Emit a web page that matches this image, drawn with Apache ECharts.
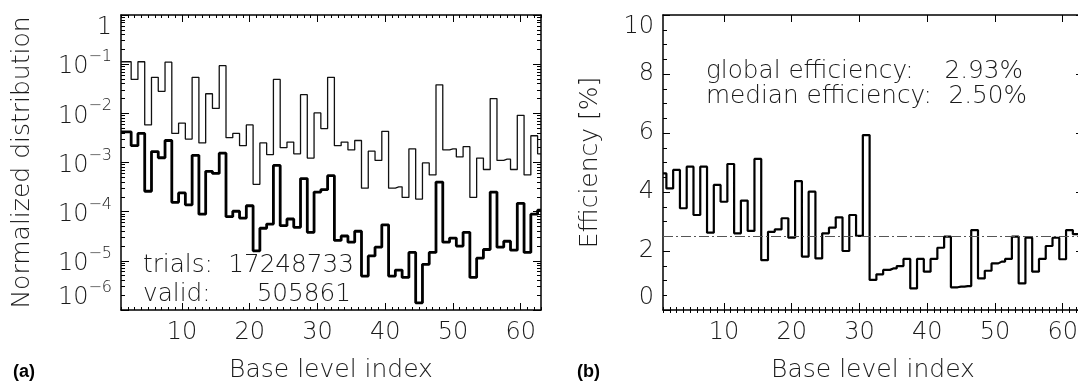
<!DOCTYPE html>
<html><head><meta charset="utf-8">
<script src="https://cdn.jsdelivr.net/npm/echarts@6/dist/echarts.min.js"></script>
<style>html,body{margin:0;padding:0;background:#fff}#c{width:1078px;height:384px}</style>
</head><body><div id="c"></div>
<script>
// ---- data ----
const binIndex = [1,2,3,4,5,6,7,8,9,10,11,12,13,14,15,16,17,18,19,20,21,22,23,24,25,26,27,28,29,30,31,32,33,34,35,36,37,38,39,40,41,42,43,44,45,46,47,48,49,50,51,52,53,54,55,56,57,58,59,60,61,62,63];
const trialsDist = [0.112,0.112,0.049,0.112,0.0058,0.054,0.028,0.11,0.0039,0.0063,
  0.0030,0.054,0.0025,0.025,0.0126,0.093,0.0032,0.0039,0.0022,0.0058,
  0.00036,0.0025,0.00145,0.049,0.0020,0.0026,0.0015,0.024,0.00123,0.0102,
  0.0049,0.054,0.0022,0.0026,0.0018,0.0028,0.0003,0.0017,0.0011,0.0043,
  0.0003,0.00032,0.000195,0.0019,0.00018,0.00098,0.00056,0.038,0.0018,0.0019,
  0.0013,0.0021,0.000195,0.00123,0.00072,0.020,0.0011,0.00117,0.00072,0.0091,
  0.00056,0.0035,0.0015];
const validDist = [0.0042,0.0042,0.0022,0.0039,0.00026,0.00167,0.00125,0.0028,0.000155,0.00024,
  0.000138,0.0014,0.000089,0.00066,0.0006,0.00155,0.000079,0.000102,0.000074,0.000132,
  0.000016,0.000046,0.000056,0.00087,0.000052,0.000071,0.000048,0.00047,0.000038,0.00025,
  0.00028,0.00054,0.000026,0.000032,0.000024,0.000040,0.0000049,0.0000126,0.000019,0.000054,
  0.0000049,0.0000065,0.0000046,0.0000148,0.0000014,0.0000085,0.0000148,0.0004,0.000024,0.000029,
  0.000020,0.000038,0.0000046,0.0000113,0.000017,0.00025,0.000019,0.000025,0.0000165,0.000148,
  0.0000148,0.000089,0.000107];
const efficiency = [4.63,4.12,4.75,3.45,4.86,3.22,4.86,2.62,4.24,3.67,
  4.95,2.60,3.71,2.68,5.12,1.69,2.65,2.73,3.11,2.45,
  4.37,1.81,4.01,1.75,2.60,2.79,3.14,2.00,3.22,2.51,
  5.93,1.02,1.21,1.36,1.41,1.49,1.73,0.73,1.73,1.30,
  1.73,2.11,2.49,0.77,0.79,0.81,2.71,1.07,1.33,1.58,
  1.64,1.73,2.49,0.90,2.45,1.30,1.73,2.17,2.45,1.72,
  2.71,2.57,2.60];
const medianEfficiency = 2.5;
const xTickValues = [10,20,30,40,50,60];
const logTickValues = [1e-6,1e-5,1e-4,1e-3,1e-2,1e-1,1];
const effTickValues = [0,2,4,6,8,10];
const logMinorValues = [];
for (let e = -6; e <= -1; e++) for (let m = 2; m <= 9; m++) logMinorValues.push(parseFloat((m * Math.pow(10, e)).toPrecision(3)));

// ---- styling ----
const FONT = "'DejaVu Sans', sans-serif";
const TXT = '#1a1a1a';
const tickLine = {color: '#000', width: 1};
const axLine = {show: true, onZero: false, lineStyle: {color: '#000', width: 1.5}};
const nameStyle = {fontFamily: FONT, fontSize: 25, color: TXT, fontWeight: 300};
const tickFont = {fontFamily: FONT, fontSize: 24, color: TXT, fontWeight: 300};

function xAxesFor(g) {
  const base = {gridIndex: g, type: 'value', min: 1, max: 63, splitLine: {show: false}};
  return [
    Object.assign({}, base, {position: 'bottom', axisLine: axLine,
      axisTick: {show: true, inside: true, length: 7, customValues: xTickValues, lineStyle: tickLine},
      axisLabel: Object.assign({show: true, customValues: xTickValues, margin: 11}, tickFont),
      name: 'Base level index', nameLocation: 'middle', nameGap: 48, nameTextStyle: nameStyle}),
    Object.assign({}, base, {position: 'bottom', axisLine: {show: false},
      axisTick: {show: true, inside: true, length: 3, customValues: binIndex, lineStyle: tickLine}, axisLabel: {show: false}}),
    Object.assign({}, base, {position: 'top', axisLine: axLine,
      axisTick: {show: true, inside: true, length: 7, customValues: xTickValues, lineStyle: tickLine}, axisLabel: {show: false}}),
    Object.assign({}, base, {position: 'top', axisLine: {show: false},
      axisTick: {show: true, inside: true, length: 3, customValues: binIndex, lineStyle: tickLine}, axisLabel: {show: false}})
  ];
}

function logLabel(v) {
  const e = Math.round(Math.log10(v));
  if (e === 0) return '{one|1}';
  return '{b|10}{s|\u2212' + (-e) + '}';
}
const logRich = {
  b: Object.assign({verticalAlign: 'bottom', lineHeight: 30}, tickFont),
  s: {fontFamily: FONT, fontSize: 16, color: TXT, fontWeight: 300, verticalAlign: 'top'},
  one: Object.assign({padding: [26, 0, 0, 0]}, tickFont)
};

const logBase = {gridIndex: 0, type: 'log', logBase: 10, min: 1e-6, max: 1, splitLine: {show: false}};
const effBase = {gridIndex: 1, type: 'value', min: 0, max: 10, interval: 2, splitLine: {show: false}};

const yAxes = [
  Object.assign({}, logBase, {position: 'left', axisLine: axLine,
    axisTick: {show: true, inside: true, length: 8, customValues: logTickValues, lineStyle: tickLine},
    axisLabel: {show: true, customValues: logTickValues, formatter: logLabel, rich: logRich, margin: 9,
      verticalAlignMinLabel: 'bottom'},
    name: 'Normalized distribution', nameLocation: 'middle', nameRotate: 90, nameGap: 86, nameTextStyle: nameStyle}),
  Object.assign({}, logBase, {position: 'left', axisLine: {show: false},
    axisTick: {show: true, inside: true, length: 4, customValues: logMinorValues, lineStyle: tickLine}, axisLabel: {show: false}}),
  Object.assign({}, logBase, {position: 'right', axisLine: axLine,
    axisTick: {show: true, inside: true, length: 8, customValues: logTickValues, lineStyle: tickLine}, axisLabel: {show: false}}),
  Object.assign({}, logBase, {position: 'right', axisLine: {show: false},
    axisTick: {show: true, inside: true, length: 4, customValues: logMinorValues, lineStyle: tickLine}, axisLabel: {show: false}}),
  Object.assign({}, effBase, {position: 'left', axisLine: axLine,
    axisTick: {show: true, inside: true, length: 7, lineStyle: tickLine},
    minorTick: {show: true, splitNumber: 4, length: 4, lineStyle: tickLine},
    axisLabel: Object.assign({show: true, margin: 9, verticalAlignMinLabel: 'bottom', verticalAlignMaxLabel: 'top'}, tickFont),
    name: 'Efficiency [%]', nameLocation: 'middle', nameRotate: 90, nameGap: 60, nameTextStyle: nameStyle}),
  Object.assign({}, effBase, {position: 'right', axisLine: axLine,
    axisTick: {show: true, inside: true, length: 7, lineStyle: tickLine},
    minorTick: {show: true, splitNumber: 4, length: 4, lineStyle: tickLine},
    axisLabel: {show: false}})
];

function txt(x, y, text, align, opts) {
  return Object.assign({type: 'text', x: x, y: y, silent: true,
    style: {text: text, x: 0, y: 0, font: '300 24px ' + FONT, fill: TXT,
      align: align, textAlign: align, verticalAlign: 'middle', textVerticalAlign: 'middle'}}, opts || {});
}
const stretch = {scaleX: 1.03};

const option = {
  animation: false,
  backgroundColor: '#fff',
  grid: [
    {left: 121, top: 15, width: 420, height: 295, containLabel: false, outerBoundsMode: 'none'},
    {left: 663, top: 15, width: 420, height: 295, containLabel: false, outerBoundsMode: 'none'}
  ],
  xAxis: xAxesFor(0).concat(xAxesFor(1)),
  yAxis: yAxes,
  series: [
    {type: 'line', xAxisIndex: 0, yAxisIndex: 0, step: 'middle', symbol: 'none',
      data: binIndex.map((x, i) => [x, trialsDist[i]]), lineStyle: {color: '#111', width: 1.3}, z: 3},
    {type: 'line', xAxisIndex: 0, yAxisIndex: 0, step: 'middle', symbol: 'none',
      data: binIndex.map((x, i) => [x, validDist[i]]), lineStyle: {color: '#000', width: 2.8}, z: 4},
    {type: 'line', xAxisIndex: 4, yAxisIndex: 4, step: 'middle', symbol: 'none',
      data: binIndex.map((x, i) => [x, efficiency[i]]), lineStyle: {color: '#000', width: 2.2}, z: 4,
      markLine: {silent: true, symbol: 'none', label: {show: false}, animation: false,
        lineStyle: {type: [10, 3, 2, 3], color: '#555', width: 1},
        data: [{yAxis: medianEfficiency}]}}
  ],
  graphic: [
    txt(143, 266, 'trials:', 'left', stretch),
    txt(354, 266, '17248733', 'right', stretch),
    txt(143, 295, 'valid:', 'left', stretch),
    txt(351, 295, '505861', 'right', stretch),
    txt(706, 72, 'global efficiency:', 'left', stretch),
    txt(1023, 72, '2.93%', 'right', stretch),
    txt(706, 97, 'median efficiency:', 'left', stretch),
    txt(1027, 97, '2.50%', 'right', stretch),
    {type: 'text', x: 13, y: 372, silent: true, style: {text: '(a)', x: 0, y: 0, font: 'bold 18px "Liberation Sans", Arial, sans-serif', fill: '#000', align: 'left', verticalAlign: 'middle', textAlign: 'left', textVerticalAlign: 'middle'}},
    {type: 'text', x: 577, y: 372, silent: true, style: {text: '(b)', x: 0, y: 0, font: 'bold 18px "Liberation Sans", Arial, sans-serif', fill: '#000', align: 'left', verticalAlign: 'middle', textAlign: 'left', textVerticalAlign: 'middle'}}
  ]
};
const chart = echarts.init(document.getElementById('c'), null, {renderer: 'canvas'});
chart.setOption(option);
</script></body></html>
